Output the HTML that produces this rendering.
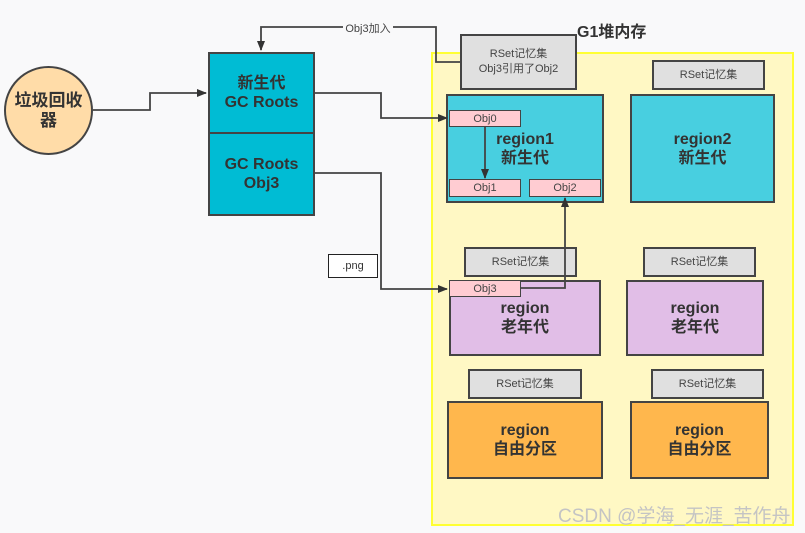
<!DOCTYPE html>
<html><head><meta charset="utf-8"><style>
html,body{margin:0;padding:0;background:#f9f9fa;}
body{width:805px;height:533px;overflow:hidden;position:relative;font-family:"Liberation Sans","Noto Sans CJK SC",sans-serif;}
.b{position:absolute;box-sizing:border-box;border:2px solid #444;display:flex;align-items:center;justify-content:center;text-align:center;color:#333;}
.bold{font-weight:bold;font-size:16px;line-height:19px;}
.rs{background:#e0e0e0;font-size:11px;color:#444;line-height:15px;}
.ob{background:#ffccd2;font-size:11px;color:#444;border-width:1.5px;}
</style></head><body>
<div class="b" style="left:431px;top:52px;width:363px;height:474px;border:2px solid #ffff33;background:#fff8c4;"></div>
<div class="b bold" style="left:4px;top:66px;width:89px;height:89px;border-radius:50%;background:#ffdca8;font-size:17px;line-height:20px;">垃圾回收<br>器</div>
<div class="b bold" style="left:208px;top:52px;width:107px;height:82px;background:#00bcd4;">新生代<br>GC Roots</div>
<div class="b bold" style="left:208px;top:132px;width:107px;height:84px;background:#00bcd4;">GC Roots<br>Obj3</div>
<div class="b" style="left:328px;top:254px;width:50px;height:24px;border:1.5px solid #222;background:#fff;font-size:11px;">.png</div>
<div style="position:absolute;left:577px;top:18px;font-weight:bold;font-size:16px;color:#333;">G1堆内存</div>
<div class="b rs" style="left:460px;top:34px;width:117px;height:56px;">RSet记忆集<br>Obj3引用了Obj2</div>
<div class="b rs" style="left:652px;top:60px;width:113px;height:30px;">RSet记忆集</div>
<div class="b bold" style="left:446px;top:94px;width:158px;height:109px;background:#48cfe0;">region1<br>新生代</div>
<div class="b bold" style="left:630px;top:94px;width:145px;height:109px;background:#48cfe0;">region2<br>新生代</div>
<div class="b ob" style="left:449px;top:110px;width:72px;height:17px;">Obj0</div>
<div class="b ob" style="left:449px;top:179px;width:72px;height:18px;">Obj1</div>
<div class="b ob" style="left:529px;top:179px;width:72px;height:18px;">Obj2</div>
<div class="b rs" style="left:464px;top:247px;width:113px;height:30px;">RSet记忆集</div>
<div class="b rs" style="left:643px;top:247px;width:113px;height:30px;">RSet记忆集</div>
<div class="b bold" style="left:449px;top:280px;width:152px;height:76px;background:#e1bee7;">region<br>老年代</div>
<div class="b bold" style="left:626px;top:280px;width:138px;height:76px;background:#e1bee7;">region<br>老年代</div>
<div class="b ob" style="left:449px;top:280px;width:72px;height:17px;">Obj3</div>
<div class="b rs" style="left:468px;top:369px;width:114px;height:30px;">RSet记忆集</div>
<div class="b rs" style="left:651px;top:369px;width:113px;height:30px;">RSet记忆集</div>
<div class="b bold" style="left:447px;top:401px;width:156px;height:78px;background:#ffb74d;">region<br>自由分区</div>
<div class="b bold" style="left:630px;top:401px;width:139px;height:78px;background:#ffb74d;">region<br>自由分区</div>
<div style="position:absolute;left:558px;top:501px;font-size:19px;color:#c4c4c4;">CSDN @学海_无涯_苦作舟</div>
<svg style="position:absolute;left:0;top:0" width="805" height="533">
<defs><marker id="a" markerWidth="10" markerHeight="10" refX="9" refY="5" orient="auto" markerUnits="userSpaceOnUse"><path d="M0,1 L10,5 L0,9z" fill="#333"/></marker></defs>
<g fill="none" stroke="#444" stroke-width="1.8">
<polyline points="93,110 150,110 150,93 206,93" marker-end="url(#a)"/>
<polyline points="460,62 436,62 436,27 261,27 261,50" marker-end="url(#a)"/>
<polyline points="315,93 381,93 381,118 447,118" marker-end="url(#a)"/>
<polyline points="315,173 381,173 381,289 447,289" marker-end="url(#a)"/>
<polyline points="485,127 485,178" marker-end="url(#a)"/>
<polyline points="521,288 565,288 565,198" marker-end="url(#a)"/>
</g>
<rect x="343" y="20" width="50" height="14" fill="#f9f9fa"/>
<text x="368" y="32" font-size="11" fill="#444" text-anchor="middle" font-family="Liberation Sans,Noto Sans CJK SC,sans-serif">Obj3加入</text>
</svg>
</body></html>
